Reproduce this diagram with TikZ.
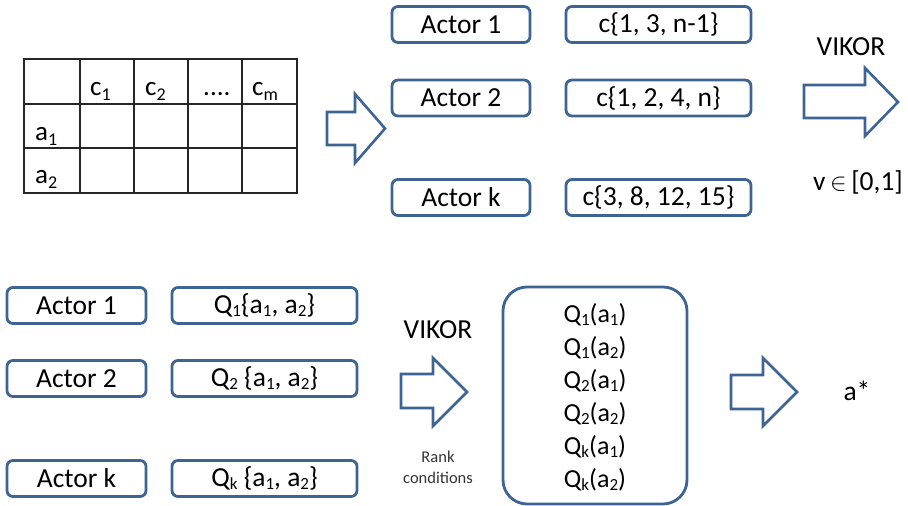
\documentclass[tikz,border=0pt]{standalone}
\usepackage{fontspec}
\setmainfont{Carlito}
\definecolor{bord}{HTML}{3E6496}
\newcommand{\qs}[1]{\raisebox{-0.2ex}{\fontsize{17}{17}\selectfont #1}}
\newcommand{\ts}[1]{\raisebox{-0.45ex}{\fontsize{18}{18}\selectfont #1}}
\tikzset{
  box/.style={draw=bord, line width=2.8pt, rounded corners=6pt, fill=white, inner sep=0pt, font=\fontsize{27.5}{32}\selectfont},
  actorbox/.style={box, minimum width=138pt, minimum height=36pt},
  setbox/.style={box, minimum width=185pt, minimum height=36pt},
  barrow/.style={draw=bord, line width=2.6pt, fill=white, line join=miter},
  grid/.style={draw=black!85, line width=1.6pt},
  lbl/.style={inner sep=0pt, font=\fontsize{27.5}{32}\selectfont},
  qlbl/.style={inner sep=0pt, font=\fontsize{26}{30}\selectfont},
  tlbl/.style={inner sep=0pt, anchor=base west, font=\fontsize{27}{30}\selectfont},
  small/.style={inner sep=0pt, font=\fontsize{16.5}{19}\selectfont, text=black!80},
}
\begin{document}
\begin{tikzpicture}[x=1pt,y=-1pt]
\useasboundingbox (0,0) rectangle (908,506);
% table
\draw[grid] (24,59) rectangle (297,193);
\draw[grid] (80,59) -- (80,193) (134,59) -- (134,193) (188,59) -- (188,193) (242,59) -- (242,193);
\draw[grid] (24,104) -- (297,104) (24,148) -- (297,148);
\node[tlbl] (tc1) at (90,95) {c\ts{1}};
\node[tlbl] (tc2) at (145,95) {c\ts{2}};
\node[tlbl] (tcd) at (203,95) {....};
\node[tlbl] (tcm) at (252,95) {c\ts{m}};
\node[tlbl] (ta1) at (35,140) {a\ts{1}};
\node[tlbl] (ta2) at (35,183) {a\ts{2}};
% arrow 1
\draw[barrow] (327,112) -- (355,112) -- (355,94) -- (385,128.5) -- (355,163) -- (355,145) -- (327,145) -- cycle;
% top boxes
\node[actorbox] (A1) at (461,24.5) {Actor 1};
\node[setbox] (C1) at (658.5,24.5) {c\{1, 3, n-1\}};
\node[actorbox] (A2) at (461,98) {Actor 2};
\node[setbox] (C2) at (658.5,98) {c\{1, 2, 4, n\}};
\node[actorbox] (Ak) at (461,197.5) {Actor k};
\node[setbox] (Ck) at (658.5,197.5) {c\{3, 8, 12, 15\}};
% arrow 2
\node[lbl] (vik1) at (851,47) {VIKOR};
\draw[barrow] (804,85) -- (865,85) -- (865,68) -- (898,102) -- (865,136) -- (865,118) -- (804,118) -- cycle;
\node[lbl] (vv) at (858,182) {v\,$\in$\,[0,1]};
% bottom boxes
\node[actorbox, minimum width=139pt] (B1) at (76.5,305.5) {Actor 1};
\node[setbox] (Q1) at (264.5,305.5) {Q\qs{1}\{a\qs{1}, a\qs{2}\}};
\node[actorbox, minimum width=139pt] (B2) at (76.5,378.5) {Actor 2};
\node[setbox] (Q2) at (264.5,378.5) {Q\qs{2} \{a\qs{1}, a\qs{2}\}};
\node[actorbox, minimum width=139pt] (Bk) at (76.5,478.5) {Actor k};
\node[setbox] (Qk) at (264.5,478.5) {Q\qs{k} \{a\qs{1}, a\qs{2}\}};
% arrow 3
\node[lbl] (vik2) at (438,330) {VIKOR};
\draw[barrow] (401,374) -- (433,374) -- (433,358) -- (467,392) -- (433,426) -- (433,408) -- (401,408) -- cycle;
\node[small] (rk1) at (438,457) {Rank};
\node[small] (rk2) at (438,478) {conditions};
% big box
\node[box, rounded corners=24pt, minimum width=184pt, minimum height=217pt] (big) at (595,395.5) {};
\node[qlbl] (l1) at (595,315) {Q\qs{1}(a\qs{1})};
\node[qlbl] (l2) at (595,348) {Q\qs{1}(a\qs{2})};
\node[qlbl] (l3) at (595,381) {Q\qs{2}(a\qs{1})};
\node[qlbl] (l4) at (595,414) {Q\qs{2}(a\qs{2})};
\node[qlbl] (l5) at (595,447) {Q\qs{k}(a\qs{1})};
\node[qlbl] (l6) at (595,480) {Q\qs{k}(a\qs{2})};
% arrow 4
\draw[barrow] (731,375) -- (763,375) -- (763,358) -- (797,392) -- (763,426) -- (763,409) -- (731,409) -- cycle;
\node[lbl] (astar) at (857,391) {a*};
\end{tikzpicture}
\end{document}
